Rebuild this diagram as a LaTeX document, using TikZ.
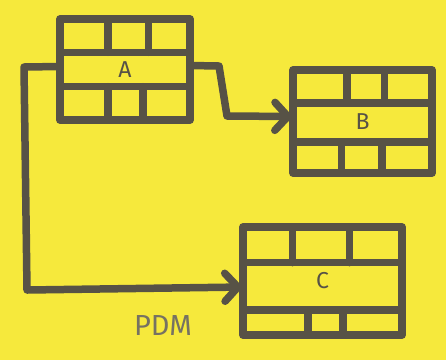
\documentclass[tikz,border=0pt]{standalone}
\usepackage{fontspec}
\setsansfont{Fira Sans}
\usepackage{xcolor}
\usetikzlibrary{arrows.meta, positioning, calc}

\definecolor{paper}{HTML}{F6E93C}
\definecolor{marker}{HTML}{575246}
\definecolor{pencil}{HTML}{767262}

% row dividers at fractions #2,#3, column dividers in top row #4,#5 and bottom row #6,#7
\newcommand{\cardgrid}[7]{%
  \draw ($(#1.north west)!#2!(#1.south west)$) -- ($(#1.north east)!#2!(#1.south east)$);
  \draw ($(#1.north west)!#3!(#1.south west)$) -- ($(#1.north east)!#3!(#1.south east)$);
  \draw ($(#1.north west)!#4!(#1.north east)$) -- ($(#1.north west)!#2!(#1.south west)!#4!($(#1.north east)!#2!(#1.south east)$)$);
  \draw ($(#1.north west)!#5!(#1.north east)$) -- ($(#1.north west)!#2!(#1.south west)!#5!($(#1.north east)!#2!(#1.south east)$)$);
  \draw ($(#1.south west)!#6!(#1.south east)$) -- ($(#1.north west)!#3!(#1.south west)!#6!($(#1.north east)!#3!(#1.south east)$)$);
  \draw ($(#1.south west)!#7!(#1.south east)$) -- ($(#1.north west)!#3!(#1.south west)!#7!($(#1.north east)!#3!(#1.south east)$)$);
}

\begin{document}
\begin{tikzpicture}[x=1pt, y=-1pt,
  line width=7.5pt, line cap=round, line join=round, draw=marker,
  every node/.style={font=\sffamily\fontsize{23}{23}\selectfont, text=marker},
  card/.style={rectangle, draw=marker, inner sep=0pt, outer sep=0pt},
  link/.style={draw=marker, -{Straight Barb[length=13pt, width=28pt, line cap=round]}}]
  % sheet
  \fill[paper] (0,0) rectangle (446,360);
  % activity cards
  \node[card, minimum width=130pt, minimum height=101pt] (A) at (125,69.5) {A};
  \node[card, minimum width=139pt, minimum height=103pt] (B) at (362.5,121.5) {B};
  \node[card, minimum width=159pt, minimum height=108pt] (C) at (322.5,281) {C};
  \cardgrid{A}{0.33}{0.67}{0.37}{0.68}{0.37}{0.64}
  \cardgrid{B}{0.32}{0.70}{0.39}{0.66}{0.35}{0.64}
  \cardgrid{C}{0.33}{0.77}{0.31}{0.67}{0.41}{0.63}
  % dependencies
  \coordinate (ab1) at (219,66);
  \coordinate (ab2) at (227,116);
  \draw[link] ($(A.east)+(0,-4)$) -- (ab1) -- (ab2) -- ($(B.west)+(0,-5)$);
  \coordinate (ac1) at (24,67);
  \coordinate (ac2) at (27,290);
  \draw[link] ($(A.west)+(0,-3)$) -- (ac1) -- (ac2) -- ($(C.west)+(0,6)$);
  % caption
  \node[text=pencil, font=\sffamily\fontsize{29}{29}\selectfont] (pdm) at (163,325) {PDM};
\end{tikzpicture}
\end{document}
